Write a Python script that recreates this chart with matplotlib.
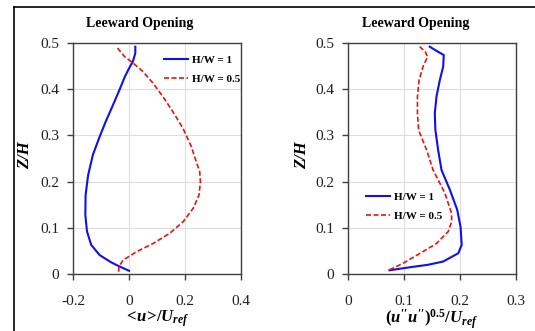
import matplotlib
matplotlib.use("Agg")
import matplotlib.pyplot as plt
from matplotlib.lines import Line2D

plt.rcParams['font.family'] = ['Liberation Serif', 'DejaVu Serif']
plt.rcParams['mathtext.fontset'] = 'custom'
plt.rcParams['mathtext.rm'] = 'Liberation Serif:bold'
plt.rcParams['mathtext.it'] = 'Liberation Serif:italic:bold'
plt.rcParams['mathtext.bf'] = 'Liberation Serif:bold'

# Left panel: mean velocity <u>/Uref
u_z1 = [0.007, 0.016, 0.025, 0.041, 0.063, 0.092, 0.128, 0.171, 0.214, 0.258,
        0.297, 0.333, 0.366, 0.400, 0.427, 0.445, 0.460, 0.478, 0.492]
u_hw1 = [0.0, -0.033, -0.063, -0.105, -0.135, -0.150, -0.156, -0.155, -0.146, -0.129,
         -0.105, -0.081, -0.057, -0.033, -0.015, 0.0, 0.014, 0.0225, 0.0225]
u_z2 = [0.005, 0.016, 0.030, 0.048, 0.066, 0.088, 0.113, 0.142, 0.171, 0.200, 0.221,
        0.247, 0.276, 0.315, 0.351, 0.384, 0.413, 0.438, 0.457, 0.470, 0.492]
u_hw05 = [-0.037, -0.036, -0.021, 0.026, 0.086, 0.145, 0.193, 0.229, 0.250, 0.255, 0.2525,
          0.238, 0.2225, 0.193, 0.157, 0.121, 0.086, 0.050, 0.014, -0.015, -0.045]

# Right panel: rms velocity (u''u'')^0.5/Uref
r_z1 = [0.008, 0.014, 0.020, 0.027, 0.045, 0.063, 0.102, 0.139, 0.182, 0.225, 0.268,
        0.312, 0.348, 0.384, 0.420, 0.449, 0.474, 0.483, 0.492]
r_hw1 = [0.074, 0.107, 0.143, 0.170, 0.197, 0.203, 0.201, 0.195, 0.182, 0.167, 0.161,
         0.156, 0.155, 0.158, 0.164, 0.170, 0.171, 0.158, 0.146]
r_z2 = [0.009, 0.023, 0.045, 0.066, 0.092, 0.113, 0.131, 0.175, 0.225, 0.268,
        0.312, 0.348, 0.384, 0.420, 0.449, 0.470, 0.481, 0.492]
r_hw05 = [0.074, 0.098, 0.129, 0.158, 0.179, 0.185, 0.185, 0.173, 0.152, 0.1405,
          0.126, 0.124, 0.124, 0.127, 0.134, 0.142, 0.138, 0.128]

left_xticks = [-0.2, 0, 0.2, 0.4]
left_xlabels = ['-0.2', '0', '0.2', '0.4']
right_xticks = [0, 0.1, 0.2, 0.3]
right_xlabels = ['0', '0.1', '0.2', '0.3']
yticks = [0, 0.1, 0.2, 0.3, 0.4, 0.5]
ylabels = ['0', '0.1', '0.2', '0.3', '0.4', '0.5']

W, H = 535, 331
fig = plt.figure(figsize=(W / 100, H / 100), dpi=100)

def px_axes(x0, x1, y0, y1):
    return fig.add_axes([x0 / W, 1 - y1 / H, (x1 - x0) / W, (y1 - y0) / H])

ax1 = px_axes(73, 241, 43, 274)
ax2 = px_axes(348, 516, 43, 274)

spine_c = '#404040'
for ax, xt, xl in [(ax1, left_xticks, left_xlabels), (ax2, right_xticks, right_xlabels)]:
    ax.set_xlim(xt[0], xt[-1])
    ax.set_ylim(0, 0.5)
    ax.set_xticks(xt)
    ax.set_xticklabels(xl)
    ax.set_yticks(yticks)
    ax.set_yticklabels(ylabels)
    ax.grid(True, color='#dedede', linewidth=0.8)
    ax.set_axisbelow(True)
    for s in ax.spines.values():
        s.set_color(spine_c)
        s.set_linewidth(1.0)
    ax.tick_params(direction='out', length=4, width=1.0, color=spine_c,
                   labelsize=11, labelcolor='#202020')
    ax.tick_params(axis='x', pad=11)
    ax.tick_params(axis='y', pad=6)

ax1.plot(u_hw1, u_z1, color='#1010ee', lw=1.5, label='H/W = 1')
ax1.plot(u_hw05, u_z2, color='#ee1010', lw=1.2, ls=(0, (3, 1.5)), label='H/W = 0.5')
ax2.plot(r_hw1, r_z1, color='#1010ee', lw=1.5, label='H/W = 1')
ax2.plot(r_hw05, r_z2, color='#ee1010', lw=1.2, ls=(0, (3, 1.5)), label='H/W = 0.5')

leg_props = dict(frameon=False, prop={'weight': 'bold', 'size': 8}, handlelength=2.1,
                 handletextpad=0.35, labelspacing=0.8, borderaxespad=0)
ax1.legend(loc='upper left', bbox_to_anchor=(160 / W, 1 - 51 / H), bbox_transform=fig.transFigure, **leg_props)
ax2.legend(loc='upper left', bbox_to_anchor=(362 / W, 1 - 188 / H), bbox_transform=fig.transFigure, **leg_props)

# titles
fig.text(140 / W, 1 - 24 / H, 'Leeward Opening', ha='center', va='center', fontsize=10, fontweight='bold')
fig.text(416 / W, 1 - 24 / H, 'Leeward Opening', ha='center', va='center', fontsize=10, fontweight='bold')

# y labels
for x in [25, 302]:
    fig.text(x / W, 1 - 155 / H, 'Z/H', rotation=90, ha='center', va='center',
             fontsize=12, fontweight='bold', fontstyle='italic')

# x labels
fig.text(157 / W, 1 - 319 / H, r'$<\!u\!>\!/U_{ref}$', ha='center', va='center', fontsize=12)
fig.text(432 / W, 1 - 319 / H, r"$(u''u'')^{0.5}/U_{ref}$", ha='center', va='center', fontsize=12)

# figure frame lines (top and left)
fig.add_artist(Line2D([14 / W, 1], [1 - 7 / H, 1 - 7 / H], color='black', lw=1.2, transform=fig.transFigure))
fig.add_artist(Line2D([14 / W, 14 / W], [0, 1 - 7 / H], color='black', lw=1.2, transform=fig.transFigure))

fig.savefig('out.png', dpi=100)
